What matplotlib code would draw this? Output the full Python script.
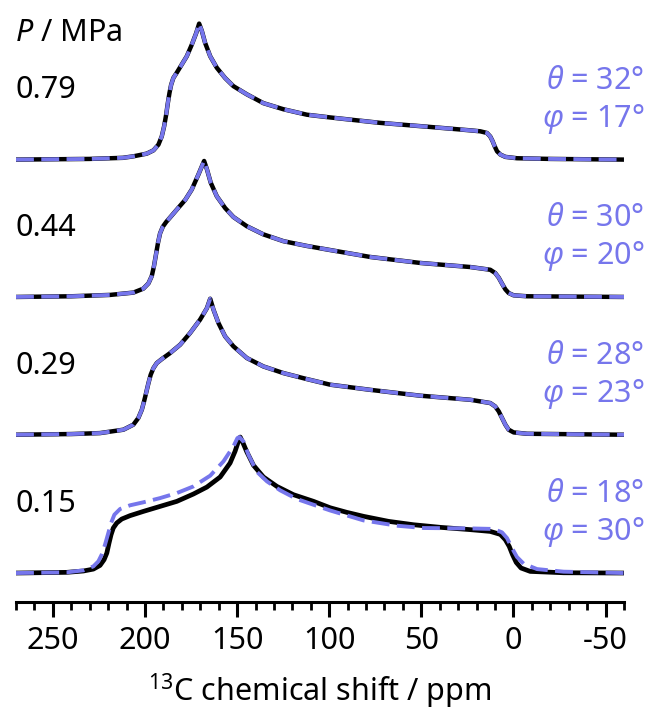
import matplotlib
matplotlib.use("Agg")
import matplotlib.pyplot as plt
from matplotlib.ticker import MultipleLocator

plt.rcParams['font.family'] = ['Noto Sans', 'DejaVu Sans']
plt.rcParams['mathtext.fontset'] = 'custom'
plt.rcParams['mathtext.rm'] = 'Noto Sans'
plt.rcParams['mathtext.it'] = 'Noto Sans:italic'
plt.rcParams['axes.unicode_minus'] = False

# Pressure series, bottom to top, with fitted tilt angles
pressures = ['0.15', '0.29', '0.44', '0.79']
theta_deg = [18, 28, 30, 32]
phi_deg = [30, 23, 20, 17]
offsets = [0.0, 1.017, 2.03, 3.04]

# 0.15 MPa
exp_015_ppm = [270, 242.5, 233.4, 228.0, 224.4, 222.2, 220.7, 219.5, 218.4, 217.2,
               215.3, 212.6, 208.1, 200.9, 191.8, 182.7, 173.7, 166.4, 159.2, 153.8,
               151.1, 149.3, 148.3, 146.9, 144.7, 141.1, 135.7, 128.4, 119.4, 108.5,
               99.5, 90.4, 81.4, 67.8, 54.2, 39.7, 23.4, 12.6, 7.1, 4.4,
               2.3, 0.5, -1.5, -4.1, -9.1, -27.2, -60]
exp_015_int = [0, 0.005, 0.015, 0.029, 0.056, 0.098, 0.147, 0.221, 0.282, 0.331,
               0.368, 0.397, 0.422, 0.453, 0.49, 0.527, 0.581, 0.632, 0.706, 0.809,
               0.895, 0.968, 1.0, 0.96, 0.89, 0.792, 0.706, 0.637, 0.576, 0.527,
               0.48, 0.446, 0.417, 0.38, 0.355, 0.336, 0.319, 0.306, 0.284, 0.245,
               0.196, 0.135, 0.078, 0.037, 0.012, 0.002, 0]
fit_015_ppm = [270, 242.5, 233.4, 228.0, 225.3, 223.5, 221.7, 219.9, 218.4, 216.6,
               213.5, 208.1, 200.9, 191.8, 182.7, 173.7, 164.6, 157.4, 152.0, 149.8,
               148.7, 146.5, 143.8, 139.3, 133.8, 126.6, 117.5, 108.5, 99.5, 81.4,
               63.3, 48.8, 23.4, 10.8, 6.2, 3.5, 0.8, -1.9, -5.5, -12.8,
               -27.2, -60]
fit_015_int = [0, 0.005, 0.02, 0.049, 0.086, 0.135, 0.208, 0.294, 0.368, 0.429,
               0.471, 0.498, 0.52, 0.551, 0.588, 0.637, 0.716, 0.821, 0.931, 0.993,
               1.0, 0.966, 0.868, 0.745, 0.674, 0.608, 0.544, 0.502, 0.46, 0.387,
               0.348, 0.331, 0.328, 0.324, 0.299, 0.257, 0.184, 0.118, 0.069, 0.029,
               0.01, 0]

# 0.29 MPa
exp_029_ppm = [270, 240, 224.4, 211.7, 206.3, 203.6, 201.7, 200.5, 199.4, 198.1,
               196.9, 195.4, 193.6, 190.9, 186.4, 180.9, 175.5, 170.1, 166.4, 164.6,
               162.8, 160.1, 156.5, 152.0, 144.7, 135.7, 124.8, 112.1, 99.5, 77.7,
               50.6, 23.4, 12.6, 9.9, 8.0, 6.2, 4.4, 2.6, -0.1, -7.4, -60]
exp_029_int = [0, 0.005, 0.012, 0.037, 0.074, 0.123, 0.184, 0.245, 0.306, 0.38,
               0.441, 0.49, 0.527, 0.556, 0.6, 0.662, 0.748, 0.846, 0.93, 1.0,
               0.919, 0.821, 0.723, 0.65, 0.564, 0.502, 0.453, 0.409, 0.368, 0.33,
               0.287, 0.257, 0.233, 0.208, 0.172, 0.123, 0.074, 0.037, 0.017, 0.007, 0]
fit_029_ppm = exp_029_ppm
fit_029_int = exp_029_int

# 0.44 MPa
exp_044_ppm = [270, 240, 218.9, 206.3, 200.9, 198.1, 196.3, 195.1, 194.0, 192.9,
               191.8, 190.3, 188.5, 185.4, 181.8, 178.2, 174.6, 171.0, 167.9, 166.4,
               164.3, 161.0, 156.5, 152.0, 144.7, 135.7, 124.8, 112.1, 99.5, 77.7,
               50.6, 23.4, 12.6, 9.9, 8.0, 6.2, 4.4, 2.6, -0.1, -7.4, -60]
exp_044_int = [0, 0.005, 0.015, 0.032, 0.061, 0.1, 0.154, 0.228, 0.314, 0.4,
               0.468, 0.517, 0.551, 0.6, 0.657, 0.713, 0.79, 0.9, 1.0, 0.94,
               0.84, 0.74, 0.654, 0.588, 0.52, 0.46, 0.41, 0.375, 0.345, 0.294,
               0.25, 0.22, 0.2, 0.176, 0.142, 0.098, 0.056, 0.029, 0.012, 0.005, 0]
fit_044_ppm = exp_044_ppm
fit_044_int = exp_044_int

# 0.79 MPa
exp_079_ppm = [270, 230, 212, 206.3, 199.0, 195.4, 192.7, 190.9, 189.6, 188.5,
               187.6, 186.7, 185.8, 184.6, 182.7, 180.0, 177.3, 174.6, 172.2, 170.6,
               169.1, 167.4, 164.6, 161.0, 156.5, 152.0, 144.7, 135.7, 124.8, 112.1,
               99.5, 72.3, 45.2, 23.4, 18.0, 14.4, 12.6, 11.3, 10.2, 8.9,
               7.1, 4.4, -1.9, -20, -60]
exp_079_int = [0, 0.005, 0.013, 0.024, 0.044, 0.068, 0.11, 0.17, 0.245, 0.33,
               0.415, 0.49, 0.55, 0.6, 0.64, 0.7, 0.76, 0.845, 0.93, 1.0,
               0.945, 0.86, 0.76, 0.675, 0.6, 0.54, 0.48, 0.415, 0.37, 0.33,
               0.31, 0.27, 0.24, 0.215, 0.208, 0.196, 0.17, 0.135, 0.098, 0.061,
               0.037, 0.02, 0.01, 0.005, 0]
fit_079_ppm = exp_079_ppm
fit_079_int = exp_079_int

experimental = [(exp_015_ppm, exp_015_int), (exp_029_ppm, exp_029_int),
                (exp_044_ppm, exp_044_int), (exp_079_ppm, exp_079_int)]
fitted = [(fit_015_ppm, fit_015_int), (fit_029_ppm, fit_029_int),
          (fit_044_ppm, fit_044_int), (fit_079_ppm, fit_079_int)]

blue = '#7676EC'
fs = 22

fig = plt.figure(figsize=(6.49, 7.11), dpi=100)
ax = fig.add_axes([16 / 649, 109 / 711, 608 / 649, 592 / 711])

for i, off in enumerate(offsets):
    xe, ye = experimental[i]
    xf, yf = fitted[i]
    ax.plot(xe, [v + off for v in ye], color='black', lw=3.2 if i else 3.4,
            solid_joinstyle='round', zorder=2)
    ax.plot(xf, [v + off for v in yf], color=blue, lw=2.8,
            dashes=(4.6, 1.9), dash_joinstyle='round', zorder=3)
    ax.text(270.5, off + 0.45, pressures[i], fontsize=fs, ha='left', va='baseline')
    ax.text(-71, off + 0.52, r'$\theta$ = %d°' % theta_deg[i], fontsize=fs,
            ha='right', va='baseline', color=blue)
    ax.text(-71, off + 0.24, r'$\varphi$ = %d°' % phi_deg[i], fontsize=fs,
            ha='right', va='baseline', color=blue)

ax.text(270.5, 3.91, r'$P$ / MPa', fontsize=fs, ha='left', va='baseline')

ax.set_xlim(270, -60)
ax.set_ylim(-0.213, 4.14)
for s in ('left', 'right', 'top'):
    ax.spines[s].set_visible(False)
ax.spines['bottom'].set_linewidth(2.2)
ax.set_yticks([])
ax.xaxis.set_major_locator(MultipleLocator(50))
ax.xaxis.set_minor_locator(MultipleLocator(10))
ax.tick_params(axis='x', which='major', direction='out', length=11, width=2.2,
               labelsize=fs, pad=6)
ax.tick_params(axis='x', which='minor', direction='out', length=6, width=2.0)
ax.set_xlabel(r'$^{13}$C chemical shift / ppm', fontsize=fs)
ax.xaxis.set_label_coords(0.5, -0.118)

fig.savefig('out.png', dpi=100)
